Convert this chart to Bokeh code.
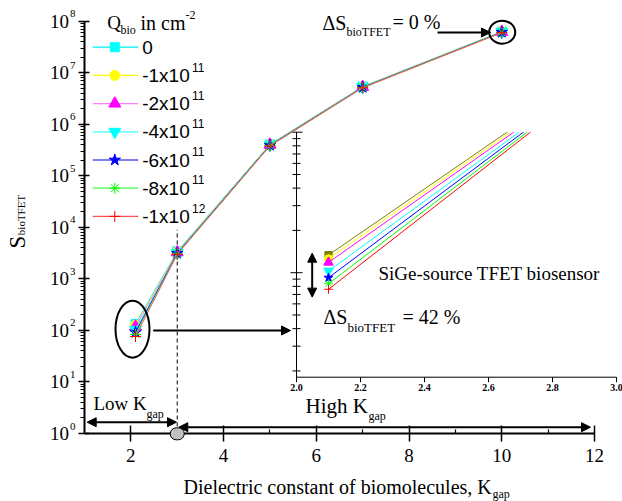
import math
from bokeh.plotting import figure
from bokeh.models import (Range1d, LogScale, LinearScale, FixedTicker, Arrow, NormalHead,
                          Label, LabelSet, ColumnDataSource, BoxAnnotation, CustomJSTickFormatter)
from bokeh.embed import file_html
from bokeh.resources import INLINE

# ---------------- data ----------------
K_GAP = [2.1, 3, 5, 7, 10]
Q_LABELS = ["0", "-1x10", "-2x10", "-4x10", "-6x10", "-8x10", "-1x10"]
Q_EXPONENTS = ["", "11", "11", "11", "11", "11", "12"]
S_Q0 = [133.5, 3440, 4.10e5, 5.40e6, 6.30e7]
S_Q1 = [125.7, 3350, 4.05e5, 5.35e6, 6.25e7]
S_Q2 = [118.4, 3270, 4.00e5, 5.30e6, 6.20e7]
S_Q4 = [102.8, 3200, 3.95e5, 5.25e6, 6.15e7]
S_Q6 = [92.1, 3130, 3.90e5, 5.20e6, 6.10e7]
S_Q8 = [83.5, 3060, 3.85e5, 5.15e6, 6.05e7]
S_Q10 = [76.2, 3000, 3.80e5, 5.10e6, 6.00e7]
SERIES = [S_Q0, S_Q1, S_Q2, S_Q4, S_Q6, S_Q8, S_Q10]

X_TICKS = [2, 4, 6, 8, 10, 12]
X_TICK_LABELS = ["2", "4", "6", "8", "10", "12"]
X_MINOR = [3, 5, 7, 9, 11]
Y_TICKS = [1e0, 1e1, 1e2, 1e3, 1e4, 1e5, 1e6, 1e7, 1e8]
Y_TICK_BASE = ["10"] * 9
Y_TICK_EXP = ["0", "1", "2", "3", "4", "5", "6", "7", "8"]
INSET_X_TICKS = [2.0, 2.2, 2.4, 2.6, 2.8, 3.0]
INSET_X_LABELS = ["2.0", "2.2", "2.4", "2.6", "2.8", "3.0"]
INSET_Y_MAJOR = [100, 1000]
DASHED_K = 3
CIRCLE_K = 3

# ---------------- styles ----------------
LINE_COLORS = ["#00eeee", "#ffff00", "#ff80ff", "#40ffff", "#0000dd", "#40ff40", "#ff5050"]
MARK_COLORS = ["#00ffff", "#ffff00", "#ff00ff", "#00ffff", "#0000ff", "#00ff00", "#ff0000"]
INSET_COLORS = ["#808000", "#ffff00", "#ff00ff", "#00ffff", "#0000ff", "#00ff00", "#ff0000"]
MARKERS = ["square", "circle", "triangle", "inverted_triangle", "star", "asterisk", "cross"]
MSIZES = [9, 10, 12, 12, 12, 11, 11]
SERIF = "Liberation Serif"
SANS = "Liberation Sans"

# ---------------- geometry (pixels) ----------------
W, H = 622, 501
FL, FB = 84, 433                 # position of K = 1 and S = 1
PXK = (594 - 84) / 11.0          # px per unit of K
PXD = (433 - 20.7) / 8.0         # px per decade
IL, IR, IT, IB = 296, 616, 131.7, 376.7
IPXK = (IR - IL) / 1.0
IPXD = 140.5

p = figure(width=W, height=H,
           x_range=Range1d(1 - FL / PXK, 1 + (W - FL) / PXK),
           y_range=Range1d(10 ** (-(H - FB) / PXD), 10 ** (FB / PXD)),
           y_axis_type="log", output_backend="svg", toolbar_location=None, min_border=0)
p.outline_line_color = None
p.xgrid.visible = False
p.ygrid.visible = False
p.background_fill_color = "white"

p.extra_x_ranges = {"ix": Range1d(2.0 - IL / IPXK, 2.0 + (W - IL) / IPXK),
                    "px": Range1d(0, W)}
p.extra_y_ranges = {"iy": Range1d(10 ** (3 - (H - IT) / IPXD), 10 ** (3 + IT / IPXD)),
                    "py": Range1d(H, 0)}
p.extra_x_scales = {"ix": LinearScale(), "px": LinearScale()}
p.extra_y_scales = {"iy": LogScale(), "py": LinearScale()}

# ---- axes (library axes, fixed at K = 1 and S = 1) ----
xa = p.xaxis[0]
xa.ticker = FixedTicker(ticks=X_TICKS, minor_ticks=X_MINOR)
xa.bounds = (1, 12)
xa.fixed_location = 1
ya = p.yaxis[0]
ya.ticker = FixedTicker(ticks=Y_TICKS,
                        minor_ticks=[m * 10 ** k for k in range(8) for m in range(2, 10)])
ya.bounds = (1, 1e8)
ya.fixed_location = 1
for ax in (xa, ya):
    ax.formatter = CustomJSTickFormatter(code="return ''")
    ax.axis_line_width = 2
    ax.axis_line_color = "black"
    ax.major_tick_line_width = 1.5
    ax.minor_tick_line_width = 1.2
    ax.major_tick_line_color = "black"
    ax.minor_tick_line_color = "black"
xa.major_tick_in = 8
xa.major_tick_out = 8
xa.minor_tick_in = 4
xa.minor_tick_out = 0
ya.major_tick_in = 5
ya.major_tick_out = 6
ya.minor_tick_in = 0
ya.minor_tick_out = 4

# tick labels
p.add_layout(LabelSet(x="x", y="y", text="t", y_range_name="py",
                      source=ColumnDataSource(dict(x=X_TICKS, y=[455] * len(X_TICKS), t=X_TICK_LABELS)),
                      text_font=SERIF, text_font_size="19px", text_align="center",
                      text_baseline="middle", text_color="black"))
p.add_layout(LabelSet(x="x", y="y", text="t", x_range_name="px",
                      source=ColumnDataSource(dict(x=[68.5] * len(Y_TICKS), y=Y_TICKS, t=Y_TICK_BASE)),
                      text_font=SERIF, text_font_size="19px", text_align="right",
                      text_baseline="middle", text_color="black"))
p.add_layout(LabelSet(x="x", y="y", text="t", x_range_name="px", y_offset=7.5,
                      source=ColumnDataSource(dict(x=[69.5] * len(Y_TICKS), y=Y_TICKS, t=Y_TICK_EXP)),
                      text_font=SERIF, text_font_size="11px", text_align="left",
                      text_baseline="middle", text_color="black"))

# ---- inset series (drawn first, then masked above the inset) ----
for vals, col, mk, ms in zip(SERIES, INSET_COLORS, MARKERS, MSIZES):
    p.line(K_GAP, vals, x_range_name="ix", y_range_name="iy", line_color=col, line_width=1)
    p.scatter(K_GAP, vals, x_range_name="ix", y_range_name="iy", marker=mk, size=ms * 0.8,
              fill_color=col, line_color=col)

p.quad(left=[IL], right=[W], top=[0], bottom=[IT], x_range_name="px", y_range_name="py",
       fill_color="white", line_color=None)

# inset axes
p.segment(x0=[INSET_X_TICKS[0]], x1=[INSET_X_TICKS[-1]], y0=[IB], y1=[IB],
          x_range_name="ix", y_range_name="py", line_color="black", line_width=1)
p.segment(x0=INSET_X_TICKS, x1=INSET_X_TICKS, y0=[IB] * len(INSET_X_TICKS),
          y1=[IB + 5] * len(INSET_X_TICKS), x_range_name="ix", y_range_name="py",
          line_color="black", line_width=1)
iy_lo = 10 ** (3 - (IB - IT) / IPXD)
p.segment(x0=[INSET_X_TICKS[0]], x1=[INSET_X_TICKS[0]], y0=[iy_lo], y1=[INSET_Y_MAJOR[-1]],
          x_range_name="ix", y_range_name="iy", line_color="black", line_width=1)
iminor = [m * 10 ** k for k in (1, 2) for m in range(2, 10)]
p.scatter([INSET_X_TICKS[0]] * len(iminor), iminor, x_range_name="ix", y_range_name="iy",
          marker="dash", size=8, line_color="black", line_width=1)
p.scatter([INSET_X_TICKS[0]] * len(INSET_Y_MAJOR), INSET_Y_MAJOR, x_range_name="ix",
          y_range_name="iy", marker="dash", size=12, line_color="black", line_width=1)
p.add_layout(LabelSet(x="x", y="y", text="t", x_range_name="ix", y_range_name="py",
                      source=ColumnDataSource(dict(x=INSET_X_TICKS, y=[IB + 7] * len(INSET_X_TICKS),
                                                   t=INSET_X_LABELS)),
                      text_font=SANS, text_font_style="bold", text_font_size="10px",
                      text_align="center", text_baseline="top", text_color="black"))

# ---- main series ----
p.segment(x0=[DASHED_K], x1=[DASHED_K], y0=[1], y1=[9e3], line_color="black",
          line_width=1, line_dash="4 3")
for vals, lc, mc, mk, ms in zip(SERIES, LINE_COLORS, MARK_COLORS, MARKERS, MSIZES):
    p.line(K_GAP, vals, line_color=lc, line_width=1)
    p.scatter(K_GAP, vals, marker=mk, size=ms, fill_color=mc, line_color=mc)

# ellipses (decorations, pixel coords)
p.ellipse(x=[132], y=[328.7], width=34, height=57, width_units="screen", height_units="screen",
          x_range_name="px", y_range_name="py", fill_color=None, line_color="black", line_width=2)
p.ellipse(x=[501.7], y=[31.7], width=26, height=23, width_units="screen", height_units="screen",
          x_range_name="px", y_range_name="py", fill_color=None, line_color="black", line_width=2)

# legend
LEG_X0, LEG_X1, LEG_MX, LEG_TX, LEG_SX = 92.3, 137.7, 114.3, 141.7, 191.5
LEG_Y0, LEG_DY = 46.7, 28.2
for i, (lab_t, ex, lc, mc, mk, ms) in enumerate(zip(Q_LABELS, Q_EXPONENTS, LINE_COLORS,
                                                     MARK_COLORS, MARKERS, MSIZES)):
    yy = LEG_Y0 + i * LEG_DY
    p.segment(x0=[LEG_X0], x1=[LEG_X1], y0=[yy], y1=[yy], x_range_name="px", y_range_name="py",
              line_color=lc, line_width=1.2)
    p.scatter([LEG_MX], [yy], x_range_name="px", y_range_name="py", marker=mk, size=ms,
              fill_color=mc, line_color=mc)
    p.add_layout(Label(x=LEG_TX, y=yy, text=lab_t, x_range_name="px", y_range_name="py",
                       text_font=SANS, text_font_size="19px", text_baseline="middle",
                       text_color="black"))
    if ex:
        p.add_layout(Label(x=LEG_SX, y=yy - 8.3, text=ex, x_range_name="px", y_range_name="py",
                           text_font=SANS, text_font_size="12px", text_baseline="middle",
                           text_color="black"))


def lab(x, y, text, size, font=SERIF, align="left", angle=0.0):
    p.add_layout(Label(x=x, y=y, text=text, x_range_name="px", y_range_name="py",
                       text_font=font, text_font_size=f"{size}px", text_align=align,
                       text_baseline="middle", angle=angle, text_color="black"))


# legend title
lab(106.7, 22, "Q", 19)
lab(120, 29.5, "bio", 12)
lab(140, 22, "in cm", 20)
lab(185, 14, "-2", 12)

# axis titles
lab(16.5, 241.5, "S", 23, align="center", angle=math.pi / 2)
lab(20.5, 214.5, "bioTFET", 11, align="center", angle=math.pi / 2)
lab(183, 486.7, "Dielectric constant of biomolecules, K", 20)
lab(492, 493.3, "gap", 12)

# region labels
lab(93, 403, "Low K", 19)
lab(146, 413, "gap", 12)
lab(305, 405, "High K", 21)
lab(368, 415, "gap", 12)

# annotations
lab(322, 22, "\u0394S", 20)
lab(346, 31.7, "bioTFET", 12)
lab(392, 21.7, "= 0 %", 20)
lab(323, 316.7, "\u0394S", 20)
lab(347, 326.7, "bioTFET", 13)
lab(402, 316.7, "= 42 %", 20)
lab(378, 272.7, "SiGe-source TFET biosensor", 19)


def arrow(x0, y0, x1, y1, both=False, size=9, xr="px", yr="py"):
    p.add_layout(Arrow(x_start=x0, y_start=y0, x_end=x1, y_end=y1,
                       x_range_name=xr, y_range_name=yr, line_width=2, line_color="black",
                       start=NormalHead(size=size, fill_color="black", line_color="black") if both else None,
                       end=NormalHead(size=size, fill_color="black", line_color="black")))


arrow(437, 32, 490, 32)
arrow(152.7, 330, 290, 330)
arrow(86.7, 421.7, 176, 421.7, both=True)
arrow(178.3, 426.7, 590, 426.7, both=True)
arrow(2.049, 137.7, 2.049, 67, both=True, xr="ix", yr="iy")

# gray marker at K = 3 on the axis
cx = FL + (CIRCLE_K - 1) * PXK
p.add_layout(BoxAnnotation(left=cx - 7, right=cx + 7, top=427.3, bottom=439.3,
                           x_range_name="px", y_range_name="py", border_radius=6,
                           fill_color="#c0c0c0", fill_alpha=1, line_color="black",
                           line_alpha=1, line_width=1))

open("out.html", "w").write(file_html(p, INLINE))
